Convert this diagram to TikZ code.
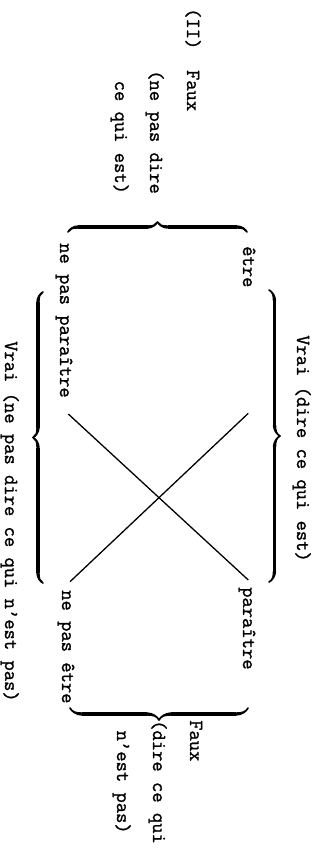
\documentclass[tikz,border=0pt]{standalone}
\usepackage{fontspec}
\newfontfamily\typew{Latin Modern Mono}[FakeBold=1.2]
\usetikzlibrary{decorations.pathreplacing,calligraphy}

\begin{document}
\begin{tikzpicture}[x=1pt,y=-1pt,
  txt/.style={rotate=-90,anchor=base west,inner sep=0pt,font=\fontsize{20}{24}\selectfont\typew},
  brc/.style={decorate,decoration={calligraphic brace,amplitude=#1},line width=3.4pt}]
\useasboundingbox (0,0) rectangle (324,849);

% top: Faux (ne pas dire ce qui est)
\node[txt] (faux1a) at (187,8) {(II)\ \ Faux};
\node[txt] (faux1b) at (150,70) {(ne pas dire};
\node[txt] (faux1c) at (115,80.5) {ce qui est)};
\draw[brc=10pt] (68,232) -- (247,232);

% the four terms
\node[txt] (etre) at (243,246) {être};
\node[txt] (nepasparaitre) at (60,243) {ne pas paraître};
\node[txt] (paraitre) at (243,587) {paraître};
\node[txt] (nepasetre) at (62,590) {ne pas être};

% the cross
\coordinate (etrefoot) at (248.3,413.3);
\coordinate (nepasparaitrefoot) at (68.3,414);
\coordinate (paraitrehead) at (248.3,580);
\coordinate (nepasetrehead) at (70,581.7);
\draw[line width=1.3pt] (etrefoot) -- (nepasetrehead);
\draw[line width=1.3pt] (nepasparaitrefoot) -- (paraitrehead);

% side braces and Vrai
\draw[brc=11pt] (269,290) -- (269,582);
\node[txt] (vrai1) at (297,335) {Vrai (dire ce qui est)};
\draw[brc=10pt] (43,583) -- (43,292);
\node[txt] (vrai2) at (5,341) {Vrai (ne pas dire ce qui n’est pas)};

% bottom: Faux (dire ce qui n'est pas)
\draw[brc=12pt] (248,708) -- (70,708);
\node[txt] (faux2a) at (190,720) {Faux};
\node[txt] (faux2b) at (153,720) {(dire ce qui};
\node[txt] (faux2c) at (117,730.5) {n’est pas)};
\end{tikzpicture}
\end{document}
